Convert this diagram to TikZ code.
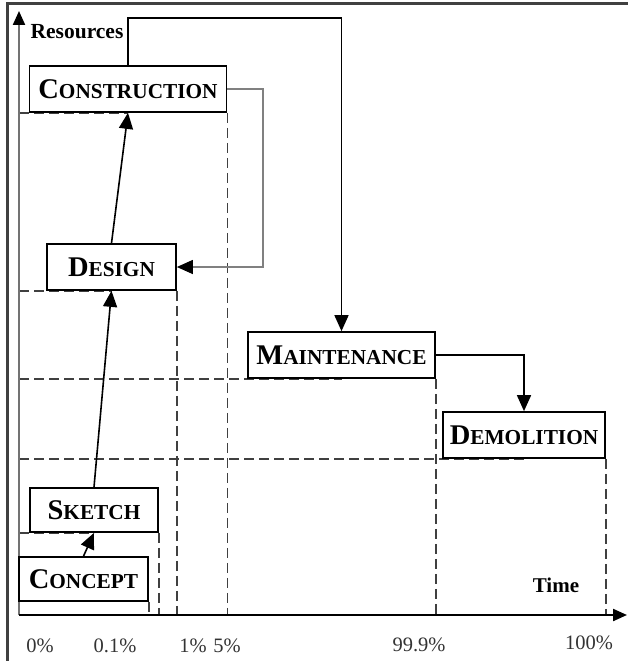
\documentclass[tikz,border=0pt]{standalone}
\usepackage{fontspec}
\setmainfont{Liberation Serif}
\usetikzlibrary{arrows.meta,backgrounds,calc}

% pseudo small caps: large initial, smaller capitals after it
\newcommand{\phase}[2]{\bfseries{\fontsize{28.5}{31}\selectfont #1}{\fontsize{21.3}{24}\selectfont #2}}

\begin{document}
\begin{tikzpicture}[x=1pt,y=-1pt,
  phasebox/.style={draw=black,line width=1.7pt,fill=white,inner sep=0pt,anchor=center},
  arr/.style={line width=1.6pt,-{Triangle[length=16pt,width=14pt]}},
  feedback/.style={draw=black!50,line width=1.2pt,-{Triangle[length=16pt,width=14pt,color=black]}},
  guide/.style={draw=black!75,line width=1.7pt,dash pattern=on 10pt off 5pt},
  axisline/.style={line width=2.2pt,-{Triangle[length=14pt,width=12pt,color=black]}},
  pct/.style={font=\fontsize{20.5}{22}\selectfont,text=black!80,anchor=center},
  axlabel/.style={font=\bfseries\fontsize{21}{23}\selectfont,anchor=center}]

\useasboundingbox (0,0) rectangle (628,661);

% outer frame
\draw[black!75,line width=2.4pt] (7.5,661) -- (7.5,3.5) -- (628,3.5);

% axes
\coordinate (O) at (19,615);
\coordinate (ytip) at (19,11);
\coordinate (xtip) at (627,615);
\draw[axisline,black!55] (O) -- (ytip);
\draw[axisline,black] (O) -- (xtip);

% phases
\node[phasebox,minimum width=197pt,minimum height=46pt] (construction) at (128,89) {\phase{C}{ONSTRUCTION}};
\node[phasebox,minimum width=129pt,minimum height=46pt] (design) at (111.5,267) {\phase{D}{ESIGN}};
\node[phasebox,minimum width=128pt,minimum height=44pt] (sketch) at (94,510) {\phase{S}{KETCH}};
\node[phasebox,minimum width=129pt,minimum height=44pt] (concept) at (83.5,579) {\phase{C}{ONCEPT}};
\node[phasebox,minimum width=187pt,minimum height=46pt] (maintenance) at (341.5,355) {\phase{M}{AINTENANCE}};
\node[phasebox,minimum width=162pt,minimum height=46pt] (demolition) at (524,435) {\phase{D}{EMOLITION}};

% guide lines to the axes
\begin{scope}[on background layer]
  \foreach \p in {construction,design,sketch,maintenance,demolition}
    \draw[guide] (O |- \p.south) -- (\p.south);
  \foreach \p in {construction,design,sketch,concept,maintenance,demolition}
    \draw[guide] (\p.south east) -- (\p.south east |- O);
\end{scope}

% flow between phases
\draw[arr] (concept.north) -- (sketch.south);
\draw[arr] (sketch.north) -- (design.south);
\draw[arr] (design.north) -- (construction.south);

\coordinate (topline) at (0,18);
\draw[arr] (construction.north) -- (construction.north |- topline) -| (maintenance.north);

\coordinate (fbx) at (263,0);
\draw[feedback] (construction.east) -- (construction.east -| fbx) |- (design.east);

\draw[arr] (maintenance.east) -| (demolition.north);

% axis labels
\node[axlabel,font=\bfseries\fontsize{21.5}{23}\selectfont] (resources) at (77,32) {Resources};
\node[axlabel] (time) at (556,585) {Time};

\node[pct] (p0) at (40,646) {0\%};
\node[pct] (p01) at (115,646) {0.1\%};
\node[pct] (p1) at (193,646) {1\%};
\node[pct] (p5) at (227,646) {5\%};
\node[pct] (p999) at (419,645) {99.9\%};
\node[pct] (p100) at (589,643) {100\%};

\end{tikzpicture}
\end{document}
